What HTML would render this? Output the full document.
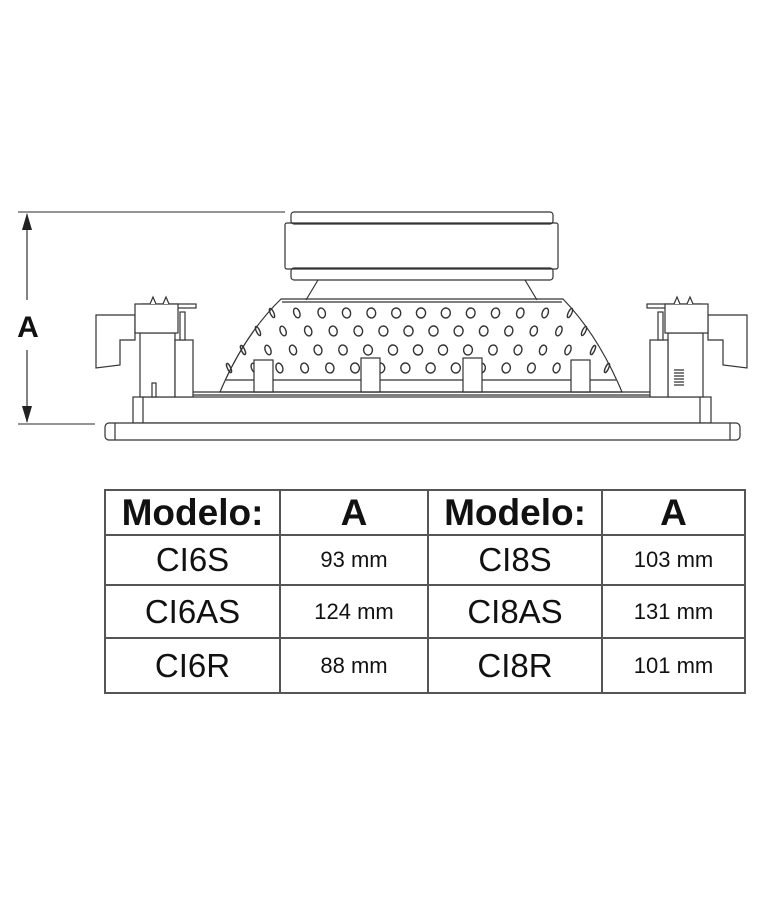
<!DOCTYPE html>
<html><head><meta charset="utf-8"><style>
html,body{margin:0;padding:0;background:#fff;}
#wrap{position:relative;width:765px;height:900px;overflow:hidden;}
svg{position:absolute;left:0;top:0;}
table{position:absolute;left:104px;top:489px;border-collapse:collapse;border:2px solid #555;}
td{border:2px solid #555;text-align:center;padding:0;color:#111;}
.h{font-family:"Liberation Sans",sans-serif;font-weight:bold;font-size:37px;height:43px;line-height:40px;}
.m{font-family:"Liberation Sans",sans-serif;font-size:33px;}
.v{font-family:"Liberation Sans",sans-serif;font-size:22px;}
</style></head><body><div id="wrap">
<svg width="765" height="900" viewBox="0 0 765 900" fill="none" stroke="#333" stroke-width="1.2">
<line x1="18" y1="212" x2="285" y2="212" stroke="#555"/>
<line x1="18" y1="424" x2="95" y2="424" stroke="#555"/>
<line x1="27" y1="214" x2="27" y2="300" stroke="#333"/>
<line x1="27" y1="350" x2="27" y2="422" stroke="#333"/>
<path d="M22 230 L27 213 L32 230 Z M22 406 L27 423 L32 406 Z" fill="#222" stroke="none"/>
<text x="28" y="337" font-family="Liberation Sans" font-weight="bold" font-size="30" fill="#111" stroke="none" text-anchor="middle">A</text>
<rect x="291" y="212" width="262" height="12" rx="3"/>
<rect x="285" y="223" width="273" height="46" rx="2"/>
<rect x="291" y="268" width="262" height="12" rx="3"/>
<line x1="318" y1="280" x2="306" y2="300"/>
<line x1="525" y1="280" x2="537" y2="300"/>
<path d="M281 299 L563 299 Q598 335 622 392 L220 392 Q244 335 281 299 Z"/>
<line x1="282" y1="302" x2="562" y2="302"/>
<line x1="226" y1="380" x2="616" y2="380"/>
<g id="holes" stroke-width="1.4"></g>
<g fill="#fff">
<rect x="254" y="360" width="19" height="32"/>
<rect x="361" y="358" width="19" height="34"/>
<rect x="463" y="358" width="19" height="34"/>
<rect x="571" y="360" width="19" height="32"/>
</g>
<line x1="176" y1="392" x2="668" y2="392"/>
<line x1="176" y1="395" x2="668" y2="395"/>
<rect x="133" y="397" width="578" height="26" fill="#fff"/>
<line x1="143" y1="397" x2="143" y2="423"/>
<line x1="700" y1="397" x2="700" y2="423"/>
<rect x="105" y="423" width="635" height="17" rx="4" fill="#fff"/>
<line x1="115" y1="423" x2="115" y2="440"/>
<line x1="730" y1="423" x2="730" y2="440"/>
<g fill="#fff">
<path d="M96 315 L135 315 L135 340 L120 340 L120 365 L96 368 Z"/>
<rect x="140" y="333" width="35" height="64"/>
<rect x="175" y="340" width="18" height="57"/>
<rect x="142" y="304" width="54" height="4"/>
<rect x="135" y="304" width="43" height="29"/>
<path d="M150 304 L153 297 L156 304 M163 304 L166 297 L169 304"/>
<rect x="180" y="312" width="5" height="28"/>
<rect x="152" y="383" width="4" height="14"/>
</g>
<g transform="translate(843,0) scale(-1,1)" fill="#fff">
<path d="M96 315 L135 315 L135 340 L120 340 L120 365 L96 368 Z"/>
<rect x="140" y="333" width="35" height="64"/>
<rect x="175" y="340" width="18" height="57"/>
<rect x="142" y="304" width="54" height="4"/>
<rect x="135" y="304" width="43" height="29"/>
<path d="M150 304 L153 297 L156 304 M163 304 L166 297 L169 304"/>
<rect x="180" y="312" width="5" height="28"/>
<path d="M159 370 L169 370 M159 373 L169 373 M159 376 L169 376 M159 379 L169 379 M159 382 L169 382 M159 385 L169 385"/>
</g>
</svg>
<script>
var g=document.getElementById('holes'),s='';
var rows=[[313,272,570],[331,258,584],[350,243,593],[368,229,607]];
rows.forEach(function(r){var y=r[0],a=r[1],b=r[2],c=(a+b)/2,h=(b-a)/2;
var n=Math.round((b-a)/25);for(var i=0;i<=n;i++){var x=a+i*(b-a)/n;var f=Math.sqrt(Math.max(0.08,1-Math.pow((x-c)/(h+12),2)));
var ang=((x-c)/h*25).toFixed(1);
s+='<ellipse cx="'+x.toFixed(1)+'" cy="'+y+'" rx="'+(4.6*f).toFixed(2)+'" ry="5" transform="rotate('+ang+' '+x.toFixed(1)+' '+y+')"/>';}});
g.innerHTML=s;
</script>
<table>
<tr><td class="h" style="width:173px">Modelo:</td><td class="h" style="width:146px">A</td><td class="h" style="width:172px">Modelo:</td><td class="h" style="width:141px">A</td></tr>
<tr style="height:50px"><td class="m">CI6S</td><td class="v">93 mm</td><td class="m">CI8S</td><td class="v">103 mm</td></tr>
<tr style="height:53px"><td class="m">CI6AS</td><td class="v">124 mm</td><td class="m">CI8AS</td><td class="v">131 mm</td></tr>
<tr style="height:55px"><td class="m">CI6R</td><td class="v">88 mm</td><td class="m">CI8R</td><td class="v">101 mm</td></tr>
</table>
</div></body></html>
